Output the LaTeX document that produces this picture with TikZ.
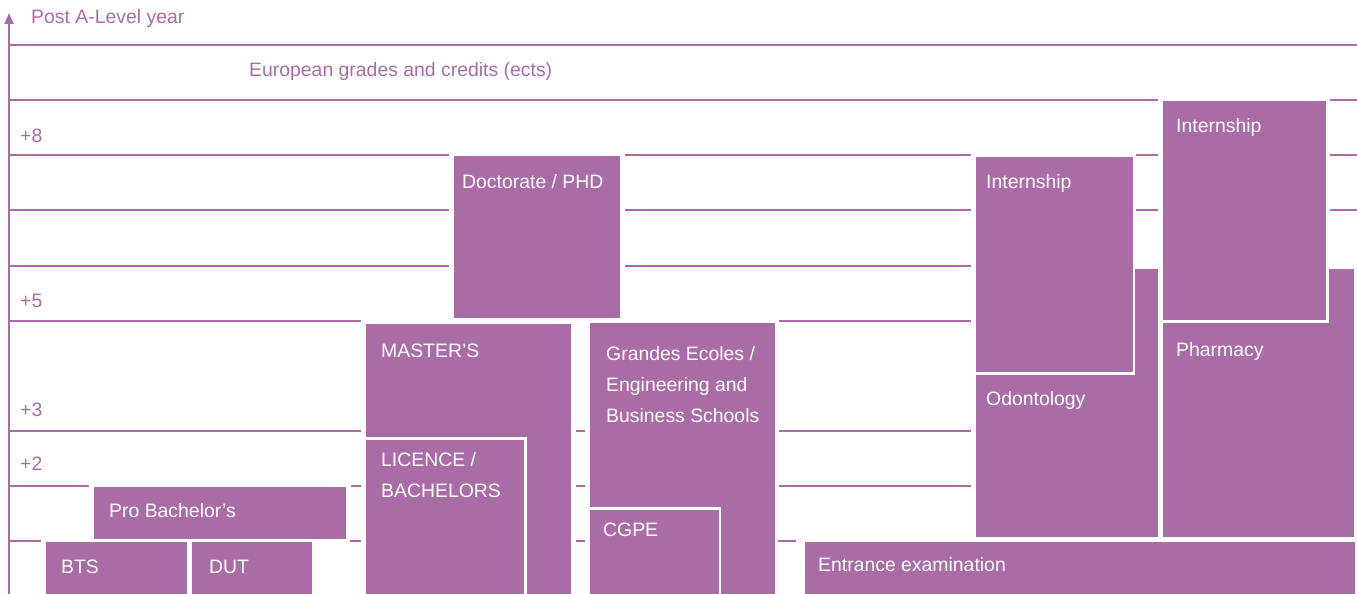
\documentclass[tikz,border=0pt]{standalone}
\usepackage{fontspec}
\setmainfont{Liberation Sans}
\usetikzlibrary{arrows.meta}
\definecolor{purp}{RGB}{170,108,167}
\begin{document}
\begin{tikzpicture}[x=1pt,y=-1pt,
  box/.style={fill=purp,draw=white,line width=2.5pt},
  gridline/.style={draw=purp,line width=1.6pt},
  wt/.style={text=white,font=\fontsize{19.4}{23}\selectfont,anchor=base west,inner sep=0pt},
  pt/.style={wt,text=purp}]
\useasboundingbox (0,0) rectangle (1357,594);
% grid lines
\draw[gridline] (9,45) -- (1357,45);
\draw[gridline] (9,100) -- (1158,100) (1330,100) -- (1357,100);
\foreach \yy in {155,210}{
  \draw[gridline] (9,\yy) -- (449,\yy) (625,\yy) -- (971,\yy) (1136,\yy) -- (1158,\yy) (1330,\yy) -- (1357,\yy);
}
\draw[gridline] (9,266) -- (449,266) (625,266) -- (971,266);
\draw[gridline] (9,321) -- (361,321) (779,321) -- (971,321);
\draw[gridline] (9,431) -- (361,431) (576,431) -- (585,431) (779,431) -- (971,431);
\draw[gridline] (9,486) -- (89,486) (351,486) -- (361,486) (576,486) -- (585,486) (779,486) -- (971,486);
\draw[gridline] (9,541) -- (41,541) (350,541) -- (361,541) (576,541) -- (585,541) (778,541) -- (796,541);
% axis
\draw[purp,line width=1.8pt,-{Triangle[width=9pt,length=11pt]}] (9,600) -- (9,13);
% boxes
\path[box] (93,486) rectangle (347,540);
\path[box] (45,541) rectangle (188,600);
\path[box] (191,541) rectangle (313,600);
\path[box] (365,323) rectangle (572,600);
\path[box] (365,438.5) rectangle (525.5,600);
\path[box] (453,155) rectangle (621,319);
\path[box] (589,322) rectangle (776,600);
\path[box] (589,508.5) rectangle (720,600);
\path[box] (975,268) rectangle (1159,538);
\path[box] (975,156) rectangle (1134,373.5);
\path[box] (1162,268) rectangle (1355,538);
\path[box] (1162,100) rectangle (1327.5,321.5);
\path[box] (804,541) rectangle (1356,600);
% outside labels
\node[pt] (axis) at (31,24) {Post A-Level year};
\node[pt] (euro) at (249,77) {European grades and credits (ects)};
\node[pt] (p8) at (20,142) {+8};
\node[pt] (p5) at (20,307) {+5};
\node[pt] (p3) at (20,416) {+3};
\node[pt] (p2) at (20,470) {+2};
% box labels
\node[wt] (pro) at (109,517) {Pro Bachelor’s};
\node[wt] (bts) at (61,573) {BTS};
\node[wt] (dut) at (209,573) {DUT};
\node[wt] (mas) at (381,357) {MASTER’S};
\node[wt] (lic1) at (381,466) {LICENCE /};
\node[wt] (lic2) at (381,497) {BACHELORS};
\node[wt] (doc) at (462,188) {Doctorate / PHD};
\node[wt] (ge1) at (606,360) {Grandes Ecoles /};
\node[wt] (ge2) at (606,391) {Engineering and};
\node[wt] (ge3) at (606,422) {Business Schools};
\node[wt] (cgpe) at (603,536) {CGPE};
\node[wt] (int1) at (986,188) {Internship};
\node[wt] (int2) at (1176,132) {Internship};
\node[wt] (odo) at (986,405) {Odontology};
\node[wt] (pha) at (1176,356) {Pharmacy};
\node[wt] (ent) at (818,571) {Entrance examination};
\end{tikzpicture}
\end{document}
